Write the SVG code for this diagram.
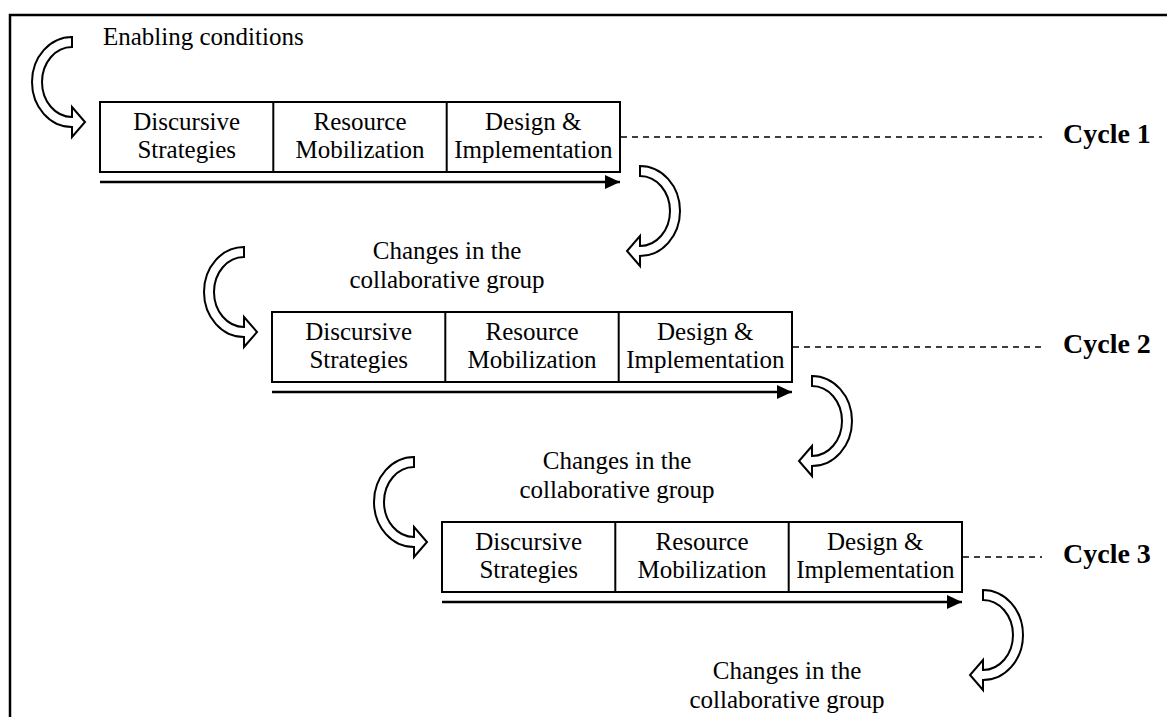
<svg xmlns="http://www.w3.org/2000/svg" xmlns:xlink="http://www.w3.org/1999/xlink" width="1167" height="717" viewBox="0 0 1167 717">
<style>
.t{font-family:"Liberation Serif","Times New Roman",serif;font-size:25px;fill:#000}
.c{font-family:"Liberation Serif","Times New Roman",serif;font-size:28px;font-weight:bold;fill:#000}
.box{fill:#fff;stroke:#000;stroke-width:2}
.div{stroke:#000;stroke-width:2}
.flow{stroke:#000;stroke-width:2.5;fill:none}
.dash{stroke:#000;stroke-width:1.5;stroke-dasharray:6 5;fill:none}
.curve{fill:#fff;stroke:#000;stroke-width:2;stroke-linejoin:miter}
</style>
<defs>
<marker id="ah" markerWidth="16" markerHeight="14" refX="15" refY="7" orient="auto" markerUnits="userSpaceOnUse">
<path d="M0,0 L15,7 L0,14 Z" fill="#000"/>
</marker>
<path id="cA" class="curve" d="M0,-45 A40,45 0 0 0 -40,0 A40,45 0 0 0 0,45 L0,55 L13,40 L0,25 L0,35 A30,35 0 0 1 -30,0 A30,35 0 0 1 0,-35 Z"/>
<path id="cB" class="curve" d="M0,-45 A40,45 0 0 1 40,0 A40,45 0 0 1 0,45 L0,55 L-13,40 L0,25 L0,35 A30,35 0 0 0 30,0 A30,35 0 0 0 0,-35 Z"/>
</defs>
<rect width="1167" height="717" fill="#fff"/>
<path d="M10,717 V15 H1167" fill="none" stroke="#000" stroke-width="2.5"/>

<g id="enabling">
<use xlink:href="#cA" href="#cA" x="72" y="82"/>
<text class="t" x="103" y="45">Enabling conditions</text>
</g>

<g id="cycle1">
<rect class="box" x="100" y="102" width="520" height="70"/>
<line class="div" x1="273.3" y1="102" x2="273.3" y2="172"/>
<line class="div" x1="446.7" y1="102" x2="446.7" y2="172"/>
<text class="t" text-anchor="middle" x="186.7" y="130">Discursive</text>
<text class="t" text-anchor="middle" x="186.7" y="158">Strategies</text>
<text class="t" text-anchor="middle" x="360" y="130">Resource</text>
<text class="t" text-anchor="middle" x="360" y="158">Mobilization</text>
<text class="t" text-anchor="middle" x="533.3" y="130">Design &amp;</text>
<text class="t" text-anchor="middle" x="533.3" y="158">Implementation</text>
<text class="c" x="1063" y="143">Cycle 1</text>
</g>

<g id="change1">
<use xlink:href="#cB" href="#cB" x="640" y="211"/>
<text class="t" text-anchor="middle" x="447" y="259">Changes in the</text>
<text class="t" text-anchor="middle" x="447" y="288">collaborative group</text>
<use xlink:href="#cA" href="#cA" x="244" y="292"/>
</g>

<g id="cycle2">
<rect class="box" x="272" y="312" width="520" height="70"/>
<line class="div" x1="445.3" y1="312" x2="445.3" y2="382"/>
<line class="div" x1="618.7" y1="312" x2="618.7" y2="382"/>
<text class="t" text-anchor="middle" x="358.7" y="340">Discursive</text>
<text class="t" text-anchor="middle" x="358.7" y="368">Strategies</text>
<text class="t" text-anchor="middle" x="532" y="340">Resource</text>
<text class="t" text-anchor="middle" x="532" y="368">Mobilization</text>
<text class="t" text-anchor="middle" x="705.3" y="340">Design &amp;</text>
<text class="t" text-anchor="middle" x="705.3" y="368">Implementation</text>
<text class="c" x="1063" y="353">Cycle 2</text>
</g>

<g id="change2">
<use xlink:href="#cB" href="#cB" x="812" y="421"/>
<text class="t" text-anchor="middle" x="617" y="469">Changes in the</text>
<text class="t" text-anchor="middle" x="617" y="498">collaborative group</text>
<use xlink:href="#cA" href="#cA" x="414" y="502"/>
</g>

<g id="cycle3">
<rect class="box" x="442" y="522" width="520" height="70"/>
<line class="div" x1="615.3" y1="522" x2="615.3" y2="592"/>
<line class="div" x1="788.7" y1="522" x2="788.7" y2="592"/>
<text class="t" text-anchor="middle" x="528.7" y="550">Discursive</text>
<text class="t" text-anchor="middle" x="528.7" y="578">Strategies</text>
<text class="t" text-anchor="middle" x="702" y="550">Resource</text>
<text class="t" text-anchor="middle" x="702" y="578">Mobilization</text>
<text class="t" text-anchor="middle" x="875.3" y="550">Design &amp;</text>
<text class="t" text-anchor="middle" x="875.3" y="578">Implementation</text>
<text class="c" x="1063" y="563">Cycle 3</text>
</g>

<g id="change3">
<use xlink:href="#cB" href="#cB" x="983" y="635"/>
<text class="t" text-anchor="middle" x="787" y="679">Changes in the</text>
<text class="t" text-anchor="middle" x="787" y="708">collaborative group</text>
</g>

<g id="connectors">
<line class="flow" x1="100" y1="182" x2="620" y2="182" marker-end="url(#ah)"/>
<line class="flow" x1="272" y1="392" x2="792" y2="392" marker-end="url(#ah)"/>
<line class="flow" x1="442" y1="602" x2="962" y2="602" marker-end="url(#ah)"/>
<line class="dash" x1="621" y1="137" x2="1042" y2="137"/>
<line class="dash" x1="793" y1="347" x2="1045" y2="347"/>
<line class="dash" x1="963" y1="557" x2="1042" y2="557"/>
</g>
</svg>
